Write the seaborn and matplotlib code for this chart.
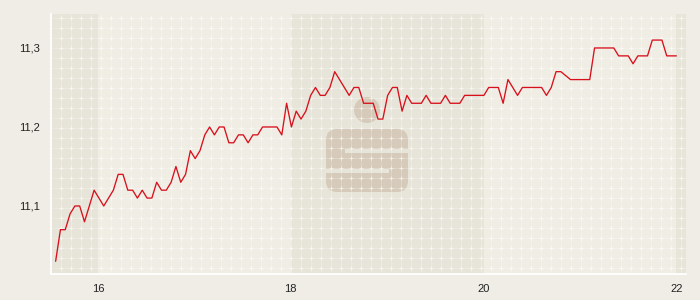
import numpy as np
import pandas as pd
import matplotlib
matplotlib.use("Agg")
import matplotlib.pyplot as plt
from matplotlib.collections import LineCollection
from matplotlib.patches import FancyBboxPatch, Circle, Rectangle
import seaborn as sns

# ---- data ----
values = [11.03, 11.07, 11.07, 11.09, 11.10, 11.10, 11.08, 11.10, 11.12, 11.11,
          11.10, 11.11, 11.12, 11.14, 11.14, 11.12, 11.12, 11.11, 11.12, 11.11,
          11.11, 11.13, 11.12, 11.12, 11.13, 11.15, 11.13, 11.14, 11.17, 11.16,
          11.17, 11.19, 11.20, 11.19, 11.20, 11.20, 11.18, 11.18, 11.19, 11.19,
          11.18, 11.19, 11.19, 11.20, 11.20, 11.20, 11.20, 11.19, 11.23, 11.20,
          11.22, 11.21, 11.22, 11.24, 11.25, 11.24, 11.24, 11.25, 11.27, 11.26,
          11.25, 11.24, 11.25, 11.25, 11.23, 11.23, 11.23, 11.21, 11.21, 11.24,
          11.25, 11.25, 11.22, 11.24, 11.23, 11.23, 11.23, 11.24, 11.23, 11.23,
          11.23, 11.24, 11.23, 11.23, 11.23, 11.24, 11.24, 11.24, 11.24, 11.24,
          11.25, 11.25, 11.25, 11.23, 11.26, 11.25, 11.24, 11.25, 11.25, 11.25,
          11.25, 11.25, 11.24, 11.25, 11.27, 11.27, 11.265, 11.26, 11.26, 11.26,
          11.26, 11.26, 11.30, 11.30, 11.30, 11.30, 11.30, 11.29, 11.29, 11.29,
          11.28, 11.29, 11.29, 11.29, 11.31, 11.31, 11.31, 11.29, 11.29, 11.29]
x_start, x_end = 15.56, 22.0
x_ticks = [16, 18, 20, 22]
x_tick_labels = ["16", "18", "20", "22"]
y_ticks = [11.1, 11.2, 11.3]
y_tick_labels = ["11,1", "11,2", "11,3"]
band_starts = [14, 18, 22]

x_vals = np.linspace(x_start, x_end, len(values))
df = pd.DataFrame({"x": x_vals, "y": values})

# ---- style ----
sns.set_style("white")
plt.rcParams["font.family"] = ["Liberation Sans", "DejaVu Sans"]

FIG_BG = "#f0ede6"
LIGHT = "#f0ede5"
DARK = "#e7e4d9"
LOGO = "#d6cbba"

W, H = 700, 300
fig = plt.figure(figsize=(7, 3), dpi=100, facecolor=FIG_BG)
L, R, T, B = 51, 686, 14, 274
ax = fig.add_axes([L / W, 1 - B / H, (R - L) / W, (B - T) / H])
ax.set_facecolor(LIGHT)

xmin, xmax = 15.512, 22.10
ymin, ymax = 11.0139, 11.343
ax.set_xlim(xmin, xmax)
ax.set_ylim(ymin, ymax)

# alternating bands
for s in band_starts:
    ax.axvspan(s, s + 2, color=DARK, lw=0, zorder=0)

# logo (pixel coordinates -> inches)
def px(xp, yp):
    return xp / 100.0, (H - yp) / 100.0

tr = fig.dpi_scale_trans
cx, cy = px(367, 110)
ax.add_patch(Circle((cx, cy), 0.13, transform=tr, color=LOGO, lw=0, zorder=0.5))
rx, ry = px(326, 192)
ax.add_patch(FancyBboxPatch((rx, ry), 0.82, 0.63,
                            boxstyle="round,pad=0,rounding_size=0.11",
                            transform=tr, color=LOGO, lw=0, zorder=0.5))
bx, by = px(345, 153)
ax.add_patch(Rectangle((bx, by), 0.64, 0.04, transform=tr, color=DARK, lw=0, zorder=0.6))
bx, by = px(326, 173)
ax.add_patch(Rectangle((bx, by), 0.63, 0.04, transform=tr, color=DARK, lw=0, zorder=0.6))

# fine grid pattern (axes fraction)
aw, ah = R - L, B - T
gx = [(10 * i) / aw for i in range(1, int(aw / 10) + 1)]
gy_px = [48 + 10 * j for j in range(-3, 23) if T < 48 + 10 * j < B]
gy = [(B - yp) / ah for yp in gy_px]
segs = [[(v, 0), (v, 1)] for v in gx] + [[(0, v), (1, v)] for v in gy]
ax.add_collection(LineCollection(segs, colors="white", linewidths=0.5, alpha=0.28,
                                 transform=ax.transAxes, zorder=1))
GX, GY = np.meshgrid(gx, gy)
ax.scatter(GX.ravel(), GY.ravel(), marker="+", s=7, linewidths=0.6, color="white",
           alpha=0.65, transform=ax.transAxes, zorder=1.5, clip_on=True)

# the line
sns.lineplot(data=df, x="x", y="y", ax=ax, color="#d8101c", linewidth=0.95,
             zorder=3, estimator=None)

# axes styling
for side in ["top", "right"]:
    ax.spines[side].set_visible(False)
for side in ["left", "bottom"]:
    ax.spines[side].set_color("white")
    ax.spines[side].set_linewidth(1.3)

ax.set_xticks(x_ticks)
ax.set_xticklabels(x_tick_labels)
ax.set_yticks(y_ticks)
ax.set_yticklabels(y_tick_labels)
ax.tick_params(axis="both", colors="white", labelcolor="#222222", labelsize=8,
               length=4, width=1.2, direction="out")
ax.tick_params(axis="y", pad=4)
ax.tick_params(axis="x", pad=3)
ax.set_xlabel("")
ax.set_ylabel("")
ax.grid(False)

fig.savefig("out.png", dpi=100, facecolor=FIG_BG)
